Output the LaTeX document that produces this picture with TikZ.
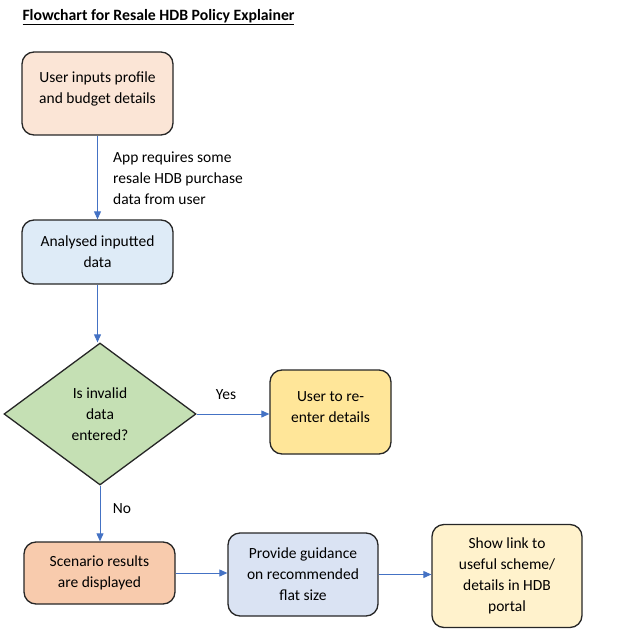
\documentclass[tikz,border=0pt]{standalone}
\usepackage{fontspec}
\setmainfont{Carlito}
\usetikzlibrary{shapes.geometric,arrows.meta}
\definecolor{arr}{HTML}{4472C4}
\definecolor{bord}{HTML}{262626}
\definecolor{cPeach}{HTML}{FBE5D6}
\definecolor{cBlue}{HTML}{DEEBF7}
\definecolor{cGreen}{HTML}{C5E0B4}
\definecolor{cYellow}{HTML}{FFE699}
\definecolor{cOrange}{HTML}{F8CBAD}
\definecolor{cLav}{HTML}{DAE3F3}
\definecolor{cCream}{HTML}{FFF2CC}
\begin{document}
\begin{tikzpicture}[x=1pt,y=-1pt,
  every node/.style={font=\fontsize{15.5}{21}\selectfont, text=black},
  box/.style={draw=bord, line width=1.3pt, rounded corners=12pt, align=center, inner sep=0pt},
  conn/.style={draw=arr, line width=1pt, -{Triangle[length=8pt,width=7pt]}},
  lbl/.style={inner sep=0pt, align=left}]
\useasboundingbox (0,0) rectangle (637,631);
\node[inner sep=0pt, font=\fontsize{15.75}{18}\selectfont\bfseries] (title) at (158.5,17) {\underline{Flowchart for Resale HDB Policy Explainer}};
\node[box, fill=cPeach, minimum width=151pt, minimum height=83pt] (b1) at (97.5,93.5) {};
\node[lbl, align=center] (b1t) at ([yshift=5pt]b1.center) {User inputs profile\\and budget details};
\node[box, fill=cBlue, minimum width=151pt, minimum height=64pt] (b2) at (97.5,252) {Analysed inputted\\data};
\node[draw=bord, line width=1.3pt, diamond, fill=cGreen, minimum width=192pt, minimum height=142pt, inner sep=0pt, align=center] (d) at (100,414) {Is invalid\\data\\entered?};
\node[box, fill=cYellow, minimum width=121pt, minimum height=84pt] (yes) at (330.5,412) {};
\node[lbl, align=center] (yest) at ([yshift=5pt]yes.center) {User to re-\\enter details};
\node[box, fill=cOrange, minimum width=151pt, minimum height=62pt] (scen) at (99.5,573) {Scenario results\\are displayed};
\node[box, fill=cLav, minimum width=150pt, minimum height=83pt] (prov) at (303,574.5) {Provide guidance\\on recommended\\flat size};
\node[box, fill=cCream, minimum width=150pt, minimum height=103pt] (show) at (507,576) {Show link to\\useful scheme/\\details in HDB\\portal};
\node[lbl, anchor=west] (l1) at (113,178) {App requires some\\resale HDB purchase\\data from user};
\node[lbl] (lyes) at (226,395) {Yes};
\node[lbl] (lno) at (122,509) {No};
\draw[conn] (b1.south) -- (b2.north);
\draw[conn] (b2.south) -- (b2.south |- d.north);
\draw[conn] (d.east) -- (d.east -| yes.west);
\draw[conn] (d.south) -- (d.south |- scen.north);
\draw[conn] (scen.east) -- (scen.east -| prov.west);
\draw[conn] (prov.east) -- (prov.east -| show.west);
\end{tikzpicture}
\end{document}
